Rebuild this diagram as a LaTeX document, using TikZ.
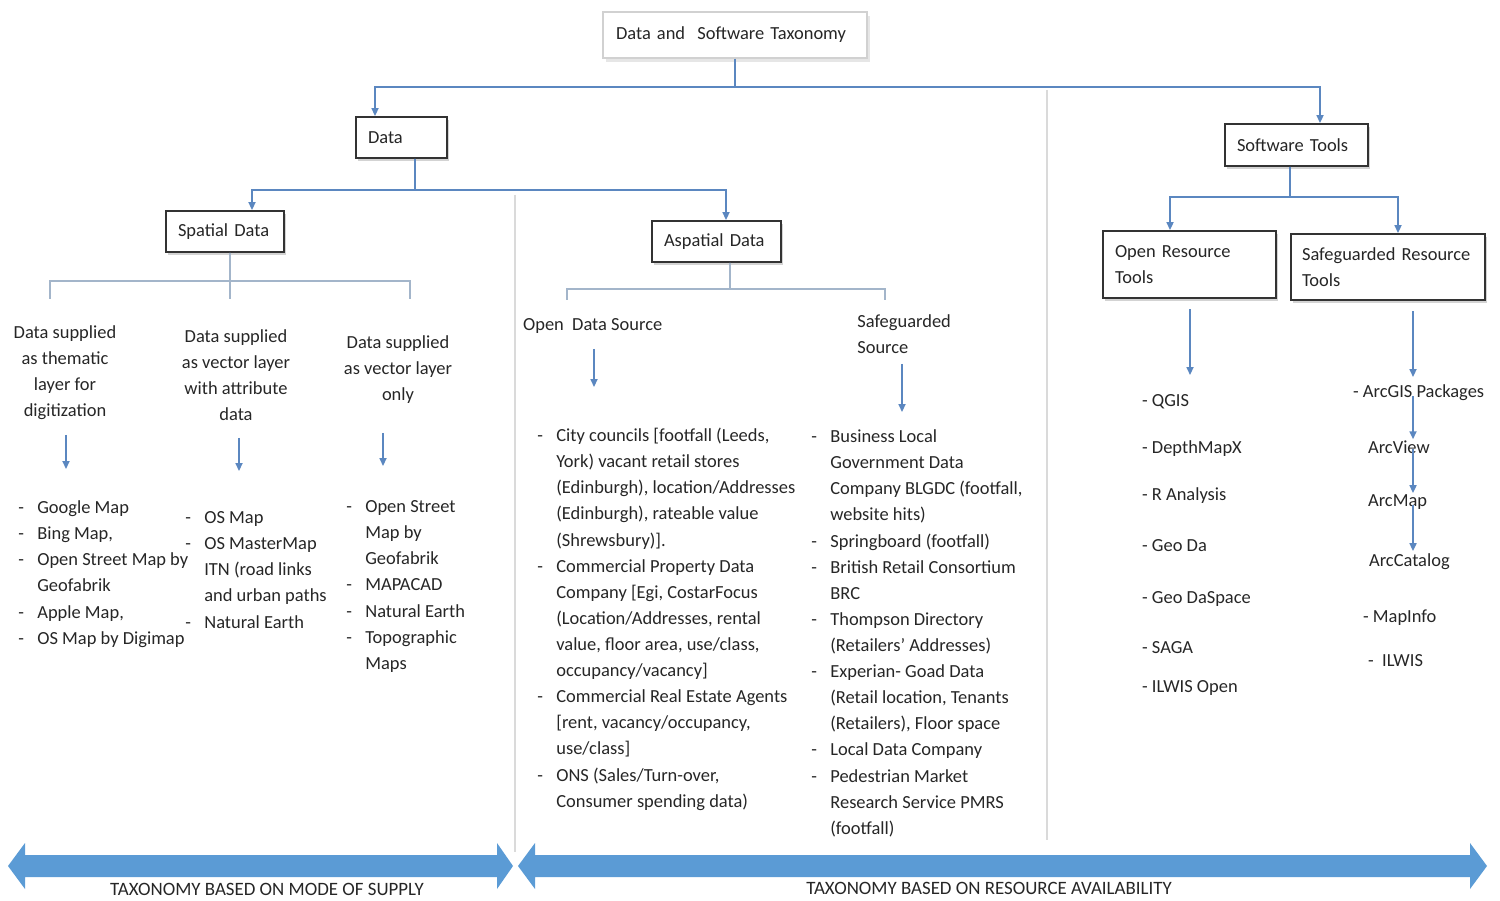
\documentclass[tikz,border=0pt]{standalone}
\usepackage{fontspec}
\setmainfont{Carlito}
\usetikzlibrary{arrows.meta,shadows,calc}
\definecolor{cblue}{HTML}{5B87C0}
\definecolor{brgray}{HTML}{A3B5CA}
\definecolor{divgray}{HTML}{DADADA}
\definecolor{ablue}{HTML}{5B9BD5}
\definecolor{txt}{HTML}{262626}
\newcommand\lidash{\makebox[0.38cm][l]{-}}
\newcommand\liind{\makebox[0.38cm][l]{}}
\newcommand\lfont{\fontsize{10.5}{14.86}\selectfont}
\begin{document}
\begin{tikzpicture}[x=0.02cm,y=-0.02cm,
  every node/.style={text=txt},
  tbox/.style={draw=black!80, line width=1.1pt, fill=white,
    drop shadow={shadow xshift=1.2pt, shadow yshift=-1.6pt, opacity=0.35},
    inner xsep=0.24cm, inner ysep=0pt, align=left, font=\lfont},
  rootbox/.style={draw=black!18, line width=0.8pt, fill=white,
    drop shadow={shadow xshift=1.5pt, shadow yshift=-2pt, opacity=0.2},
    inner xsep=0.26cm, inner ysep=0pt, align=left, font=\lfont},
  conn/.style={draw=cblue, line width=0.9pt},
  arr/.style={conn, -{Triangle[length=4.5pt,width=4pt]}},
  br/.style={draw=brgray, line width=0.9pt},
  divline/.style={draw=divgray, line width=0.8pt},
  blockc/.style={anchor=north, inner sep=0pt, align=center, font=\lfont},
  block/.style={anchor=north west, inner sep=0pt, align=left, font=\lfont},
  one/.style={anchor=base west, inner sep=1pt, font=\lfont},
  foot/.style={anchor=base, inner sep=0pt, font=\fontsize{10.75}{12}\selectfont},
]
\useasboundingbox (0,0) rectangle (1500,901);

% dividers
\draw[divline] (515,195) -- (515,852);
\draw[divline] (1047,90) -- (1047,840);

% boxes
\node[rootbox, text width=4.76cm, minimum height=0.92cm] (root) at (735,35) {Data and~ Software Taxonomy};
\node[tbox, text width=1.34cm, minimum height=0.82cm] (data) at (401.5,137.5) {Data};
\node[tbox, text width=1.88cm, minimum height=0.82cm] (spatial) at (225,231.5) {Spatial Data};
\node[tbox, text width=2.10cm, minimum height=0.82cm] (aspatial) at (716.5,241.5) {Aspatial Data};
\node[tbox, text width=2.38cm, minimum height=0.84cm] (soft) at (1296.5,145) {Software Tools};
\node[tbox, text width=2.98cm, minimum height=1.34cm] (ort) at (1189.5,264.5) {Open Resource\\Tools};
\node[tbox, text width=3.44cm, minimum height=1.32cm, inner xsep=0.22cm] (srt) at (1388,267) {\mbox{Safeguarded Resource}\\Tools};

% tree connectors
\coordinate (j1) at (735,87);
\draw[conn] (root.south) -- (j1);
\draw[arr] (j1) -| ([xshift=-0.53cm]data.north);
\draw[arr] (j1) -| ([xshift=0.47cm]soft.north);

\coordinate (j2) at (415,190);
\draw[conn] ([xshift=0.27cm]data.south) -- (j2);
\draw[arr] (j2) -| ([xshift=0.54cm]spatial.north);
\draw[arr] (j2) -| ([xshift=0.19cm]aspatial.north);

\coordinate (j3) at (230,281);
\coordinate (b1l) at (50,299);
\coordinate (b1m) at (230,299);
\coordinate (b1r) at (410,299);
\draw[br] ([xshift=0.1cm]spatial.south) -- (b1m);
\draw[br] (b1l) |- (j3) -| (b1r);

\coordinate (j4) at (730,289);
\coordinate (b2l) at (567,300);
\coordinate (b2r) at (885,300);
\draw[br] ([xshift=0.27cm]aspatial.south) -- (j4);
\draw[br] (b2l) |- (j4) -| (b2r);

\coordinate (j5) at (1290,197);
\draw[conn] ([xshift=-0.13cm]soft.south) -- (j5);
\draw[arr] (j5) -| ([xshift=-0.39cm]ort.north);
\draw[arr] (j5) -| ([xshift=0.2cm]srt.north);

% spatial columns
\node[blockc] (h1) at (65,320) {\strut Data supplied\\as thematic\\layer for\\digitization};
\node[blockc] (h2) at (236,324) {\strut Data supplied\\as vector layer\\with attribute\\data};
\node[blockc] (h3) at (398,330) {\strut Data supplied\\as vector layer\\only};

\coordinate (a1s) at (66,435); \coordinate (a1e) at (66,469);
\coordinate (a2s) at (239,438); \coordinate (a2e) at (239,471);
\coordinate (a3s) at (383,433); \coordinate (a3e) at (383,466);
\draw[arr] (a1s) -- (a1e);
\draw[arr] (a2s) -- (a2e);
\draw[arr] (a3s) -- (a3e);

\node[block] (l1) at (18,495) {\strut\lidash Google Map\\\lidash Bing Map,\\\lidash Open Street Map by\\\liind Geofabrik\\\lidash Apple Map,\\\lidash OS Map by Digimap};
\node[block] (l2) at (185,505) {\strut\lidash OS Map\\\lidash OS MasterMap\\\liind ITN (road links\\\liind and urban paths\\\lidash Natural Earth};
\node[block] (l3) at (346,494) {\strut\lidash Open Street\\\liind Map by\\\liind Geofabrik\\\lidash MAPACAD\\\lidash Natural Earth\\\lidash Topographic\\\liind Maps};

% aspatial columns
\node[one] (ods) at (521,331) {Open~ Data Source};
\node[block] (sgs) at (857,309) {\strut Safeguarded\\Source};
\coordinate (a4s) at (594,349); \coordinate (a4e) at (594,387);
\coordinate (a5s) at (902,364); \coordinate (a5e) at (902,412);
\draw[arr] (a4s) -- (a4e);
\draw[arr] (a5s) -- (a5e);

\node[block] (l4) at (537,423) {\strut\lidash City councils [footfall (Leeds,\\
\liind York) vacant retail stores\\
\liind (Edinburgh), location/Addresses\\
\liind (Edinburgh), rateable value\\
\liind (Shrewsbury)].\\
\lidash Commercial Property Data\\
\liind Company [Egi, CostarFocus\\
\liind (Location/Addresses, rental\\
\liind value, floor area, use/class,\\
\liind occupancy/vacancy]\\
\lidash Commercial Real Estate Agents\\
\liind [rent, vacancy/occupancy,\\
\liind use/class]\\
\lidash ONS (Sales/Turn-over,\\
\liind Consumer spending data)};

\node[block] (l5) at (811,424) {\strut\lidash Business Local\\
\liind Government Data\\
\liind Company BLGDC (footfall,\\
\liind website hits)\\
\lidash Springboard (footfall)\\
\lidash British Retail Consortium\\
\liind BRC\\
\lidash Thompson Directory\\
\liind (Retailers' Addresses)\\
\lidash Experian- Goad Data\\
\liind (Retail location, Tenants\\
\liind (Retailers), Floor space\\
\lidash Local Data Company\\
\lidash Pedestrian Market\\
\liind Research Service PMRS\\
\liind (footfall)};

% software tools
\coordinate (qa) at (1190,375);
\coordinate (sa) at (1413,377);
\draw[arr, shorten <=6pt] (ort.south -| qa) -- (qa);
\draw[arr, shorten <=6pt] (srt.south -| sa) -- (sa);

\node[one] (qgis) at (1140,407) {- QGIS};
\node[one] (depth) at (1140,454) {- DepthMapX};
\node[one] (ran) at (1140,501) {- R Analysis};
\node[one] (geoda) at (1140,552) {- Geo Da};
\node[one] (geods) at (1140,603) {- Geo DaSpace};
\node[one] (saga) at (1140,653) {- SAGA};
\node[one] (ilwo) at (1140,692) {- ILWIS Open};

\node[one] (arcgis) at (1351,398) {- ArcGIS Packages};
\node[one] (arcview) at (1366,454) {ArcView};
\node[one] (arcmap) at (1366,507) {ArcMap};
\node[one] (arccat) at (1367,566) {ArcCatalog};
\node[one] (mapinfo) at (1361,622) {- MapInfo};
\node[one] (ilw) at (1366,666) {-~ ILWIS};

\draw[arr, shorten <=-4pt] (arcgis.south -| sa) -- (arcview.north -| sa);
\draw[arr, shorten <=-4pt] (arcview.south -| sa) -- (arcmap.north -| sa);
\draw[arr, shorten <=-4pt] (arcmap.south -| sa) -- (arccat.north -| sa);

% bottom double arrows
\fill[ablue] (8,866) -- (25,843) -- (25,855) -- (497,855) -- (497,843) -- (513,866)
  -- (497,889) -- (497,877) -- (25,877) -- (25,889) -- cycle;
\fill[ablue] (518,866) -- (535,843) -- (535,855) -- (1470,855) -- (1470,843) -- (1487,866)
  -- (1470,889) -- (1470,877) -- (535,877) -- (535,889) -- cycle;
\node[foot] (t1) at (267,895) {TAXONOMY BASED ON MODE OF SUPPLY};
\node[foot] (t2) at (989,894) {TAXONOMY BASED ON RESOURCE AVAILABILITY};
\end{tikzpicture}
\end{document}
